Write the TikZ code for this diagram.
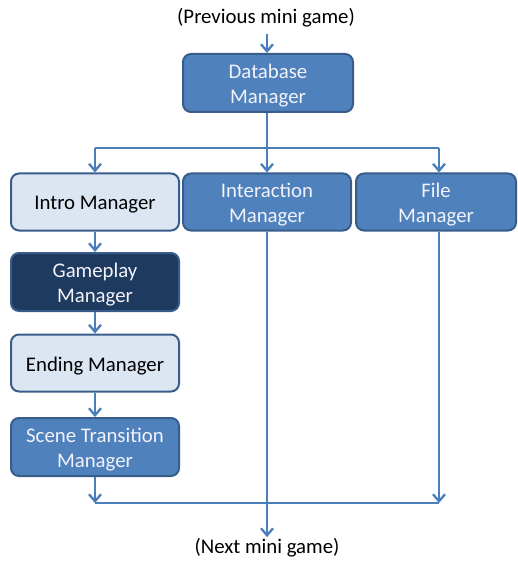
\documentclass[tikz,border=0pt]{standalone}
\usepackage{fontspec}
\setmainfont{Carlito}
\usetikzlibrary{arrows.meta}
\definecolor{boxblue}{HTML}{4F81BD}
\definecolor{boxedge}{HTML}{385D8A}
\definecolor{boxlight}{HTML}{DCE6F2}
\definecolor{boxdark}{HTML}{1F3A5F}
\definecolor{linkblue}{HTML}{4A7EBB}
\definecolor{softwhite}{HTML}{F2F2FA}
\tikzset{
  mgr/.style={draw=boxedge, line width=2pt, rounded corners=8pt, inner sep=0pt},
  midbox/.style={mgr, fill=boxblue},
  lightbox/.style={mgr, fill=boxlight},
  darkbox/.style={mgr, fill=boxdark},
  txt/.style={align=center, font=\fontsize{20.8}{25}\selectfont, inner sep=0pt},
  ontext/.style={txt, text=softwhite},
  intext/.style={txt, text=black},
  label/.style={font=\fontsize{20.8}{25}\selectfont, text=black},
  link/.style={draw=linkblue, line width=2.3pt},
  flow/.style={link, -{Straight Barb[length=7pt,width=12pt,line width=2.3pt]}}
}
\begin{document}
\begin{tikzpicture}[x=1pt,y=-1pt]
  \useasboundingbox (0,0) rectangle (517,561);
  % top and bottom labels
  \node[label] (prev) at (266,18) {(Previous mini game)};
  \node[label] (next) at (267,548) {(Next mini game)};
  % manager boxes
  \node[midbox, minimum width=170pt, minimum height=58pt] (db) at (268,83) {};
  \node[lightbox, minimum width=168pt, minimum height=57pt] (intro) at (95,202) {};
  \node[midbox, minimum width=168pt, minimum height=57pt] (inter) at (267,202) {};
  \node[midbox, minimum width=160pt, minimum height=57pt] (file) at (436,202) {};
  \node[darkbox, minimum width=168pt, minimum height=58pt] (game) at (95,282) {};
  \node[lightbox, minimum width=168pt, minimum height=57pt] (end) at (95,363) {};
  \node[midbox, minimum width=168pt, minimum height=58pt] (scene) at (95,447) {};
  % box captions, set a little below the geometric centre
  \node[ontext] (dbt) at ([yshift=-3pt]db.center) {Database\\Manager};
  \node[intext] (introt) at ([yshift=-3pt]intro.center) {Intro Manager};
  \node[ontext] (intert) at ([yshift=-3pt]inter.center) {Interaction\\Manager};
  \node[ontext] (filet) at ([yshift=-3pt]file.center) {File\\Manager};
  \node[ontext] (gamet) at ([yshift=-3pt]game.center) {Gameplay\\Manager};
  \node[intext] (endt) at ([yshift=-3pt]end.center) {Ending Manager};
  \node[ontext] (scenet) at ([yshift=-3pt]scene.center) {Scene Transition\\Manager};
  % junction points
  \coordinate (split) at (267,148);
  \coordinate (splitL) at (95,148);
  \coordinate (splitR) at (439,148);
  \coordinate (joinL) at (95,503);
  \coordinate (joinR) at (439,503);
  % connectors
  \draw[flow] (prev.south -| split) ++(0,3) -- (split |- db.north);
  \draw[link] (db.south -| split) -- (split);
  \draw[link] (splitL) -- (splitR);
  \draw[flow] (splitL) -- (intro.north);
  \draw[flow] (split) -- (inter.north);
  \draw[flow] (splitR) -- (splitR |- file.north);
  \draw[flow] (intro) -- (game);
  \draw[flow] (game) -- (end);
  \draw[flow] (end) -- (scene);
  \draw[flow] (scene.south) -- (joinL);
  \draw[flow] (splitR |- file.south) -- (joinR);
  \draw[link] (joinL) -- (joinR);
  \draw[flow] (inter.south) -- ([yshift=-2pt]next.north);
\end{tikzpicture}
\end{document}
